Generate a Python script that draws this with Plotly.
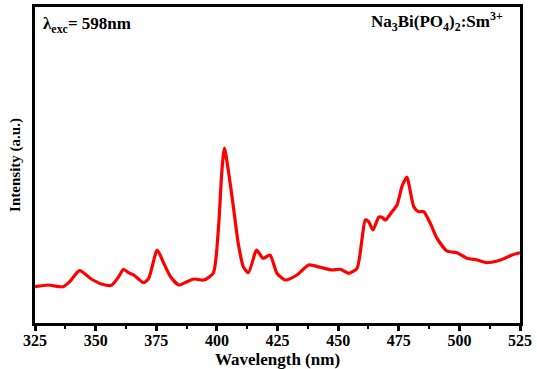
import plotly.graph_objects as go

wavelength = [325, 330.4, 336.6, 339.3, 343.4, 348.2, 352.4, 356.5, 359.5, 361.5,
              363.6, 365.7, 369.8, 371.9, 375.4, 378.1, 380.9, 384.3, 387.7, 390.5,
              394.6, 398.5, 400.6, 402.0, 403.1, 404.7, 406.8, 408.8, 410.9, 413.0,
              415.7, 416.4, 419.1, 421.9, 424.8, 428.2, 433.0, 437.9, 442.6, 447.5,
              450.9, 454.4, 457.8, 459.8, 461.2, 462.6, 464.4, 466.7, 468.1, 469.5,
              472.2, 474.3, 476.3, 478.3, 481.2, 483.2, 485.3, 488.0, 490.8, 494.9,
              499.0, 503.1, 507.3, 511.4, 516.9, 521.7, 525.0]
intensity = [36.3, 38, 36.3, 41.3, 52.3, 44, 39, 37.7, 46.3, 53.7,
             50.3, 48, 40.3, 44.7, 73, 59.7, 46.3, 38, 41.3, 44,
             43, 49.7, 93, 150, 175, 153, 116.3, 79.7, 56.3, 50.3,
             69.7, 73, 64.7, 68, 49.7, 43, 48, 58, 55.7, 53,
             53.7, 49.7, 54.7, 83, 103, 101.3, 93, 105.7, 105.7, 103,
             111.3, 118, 136.3, 146, 116.3, 111.3, 111.3, 99.7, 84.7, 72,
             70.3, 64.7, 63, 60.3, 63, 68, 70.3]
x_ticks = [325, 350, 375, 400, 425, 450, 475, 500, 525]

serif = "Liberation Serif, Times New Roman, serif"

fig = go.Figure()
fig.add_trace(go.Scatter(x=wavelength, y=intensity, mode="lines",
                         line=dict(color="#ff0000", width=3.2, shape="spline", smoothing=0.6),
                         showlegend=False))

fig.update_layout(
    width=537, height=369,
    margin=dict(l=35, r=17, t=7, b=46, autoexpand=False),
    paper_bgcolor="white", plot_bgcolor="white",
    font=dict(family=serif, color="black"),
    xaxis=dict(range=[325, 525], tickvals=x_ticks, ticks="outside", ticklen=5,
               tickwidth=2.5, tickcolor="black", automargin=False,
               ticklabelstandoff=-4,
               minor=dict(dtick=12.5, tick0=325, ticks="outside", ticklen=3,
                          tickwidth=2, tickcolor="black"),
               showline=True, linewidth=3, linecolor="black", mirror=True,
               showgrid=False, zeroline=False,
               tickfont=dict(size=16, family=serif, weight="bold"),
               title=dict(text="<b>Wavelength (nm)</b>",
                          font=dict(size=17, family=serif), standoff=5)),
    yaxis=dict(range=[0, 316], showticklabels=False, ticks="", automargin=False,
               showline=True, linewidth=3, linecolor="black", mirror=True,
               showgrid=False, zeroline=False,
               title=dict(text="<b>Intensity (a.u.)</b>",
                          font=dict(size=15, family=serif), standoff=8)),
    annotations=[
        dict(text="<b>λ<sub>exc</sub>= 598nm</b>", xref="paper", yref="paper",
             x=0.012, y=0.985, xanchor="left", yanchor="top", showarrow=False,
             font=dict(size=17, family=serif)),
        dict(text="<b>Na<sub>3</sub>Bi(PO<sub>4</sub>)<sub>2</sub>:Sm<sup>3+</sup></b>",
             xref="paper", yref="paper", x=0.97, y=1.0, xanchor="right", yanchor="top",
             showarrow=False, font=dict(size=17, family=serif)),
    ],
)

fig.write_html("out.html", config={"displayModeBar": False},
               post_script="document.body.style.margin='0';")
